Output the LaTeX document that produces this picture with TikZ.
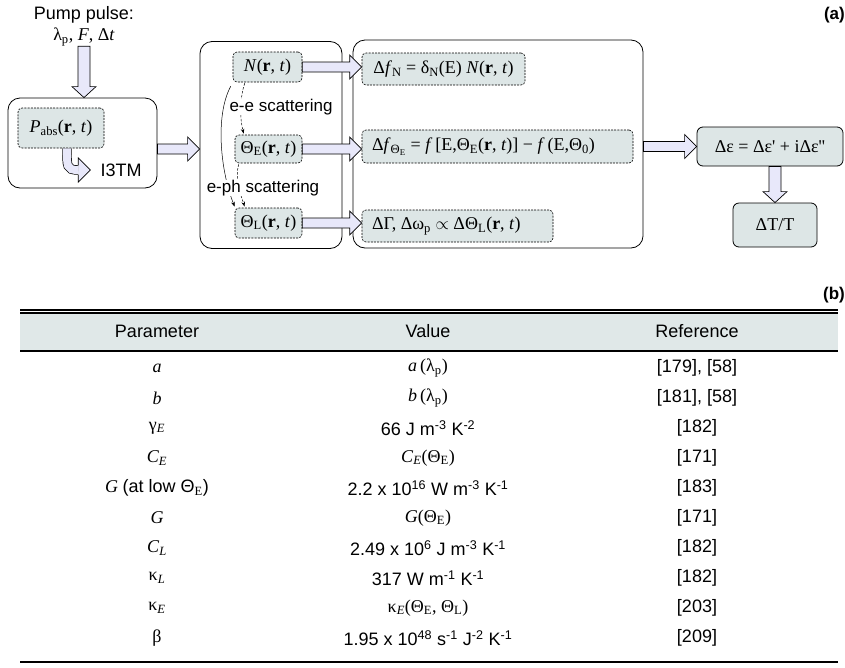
\documentclass[tikz,border=0pt]{standalone}
\usepackage{fontspec}
\setmainfont{Liberation Serif}
\setsansfont{Liberation Sans}
\usetikzlibrary{positioning, calc, arrows.meta}

\definecolor{boxfill}{RGB}{221,230,230}
\definecolor{arrfill}{RGB}{232,232,250}
\definecolor{headfill}{RGB}{224,232,232}

\newcommand{\posrt}{(\textbf{r}, \textit{t})}
\newcommand{\sbs}[1]{\textsubscript{#1}}
\newcommand{\sps}[1]{\textsuperscript{#1}}
\newcommand{\blkright}[2]{\draw[blk] let \p1=(#1), \p2=(#2) in (\x1,\y1+5pt) -- (\x2-12pt,\y1+5pt) -- (\x2-12pt,\y1+12pt) -- (\x2,\y1) -- (\x2-12pt,\y1-12pt) -- (\x2-12pt,\y1-5pt) -- (\x1,\y1-5pt) -- cycle;}
\newcommand{\blkdown}[2]{\draw[blk] let \p1=(#1), \p2=(#2) in (\x1-6pt,\y1) -- (\x1-6pt,\y2+11pt) -- (\x1-12pt,\y2+11pt) -- (\x1,\y2) -- (\x1+12pt,\y2+11pt) -- (\x1+6pt,\y2+11pt) -- (\x1+6pt,\y1) -- cycle;}

\begin{document}
\begin{tikzpicture}[x=1pt, y=-1pt]
\tikzstyle{every node}+=[inner sep=0pt, font=\fontsize{18}{21}\selectfont]
\tikzstyle{sans}=[font=\fontsize{18}{21}\selectfont\sffamily]
\tikzstyle{tag}=[font=\fontsize{17}{20}\selectfont\sffamily\bfseries, anchor=east]
\tikzstyle{frame}=[draw, line width=0.8pt, rounded corners=12pt]
\tikzstyle{dbox}=[draw, fill=boxfill, line width=0.6pt, dash pattern=on 2pt off 1.2pt, rounded corners=4pt]
\tikzstyle{lbox}=[dbox, align=flush left, inner xsep=10pt]
\tikzstyle{sbox}=[draw, fill=boxfill, line width=0.8pt, rounded corners=6pt]
\tikzstyle{blk}=[draw, fill=arrfill, line width=0.7pt]
\tikzstyle{scat}=[-{Stealth[length=5pt, width=3.5pt]}, line width=0.5pt]
\tikzstyle{dscat}=[scat, dash pattern=on 2.5pt off 1.5pt]
\tikzstyle{scatlbl}=[sans, font=\fontsize{17}{20}\selectfont\sffamily, fill=white]
\useasboundingbox (0,0) rectangle (845,667);

\node[tag] (laba) at (845,15) {(a)};
\node[sans] (pumptxt) at (84,15) {Pump pulse:};
\node (pumppar) at (84,37) {λ\sbs{p}, \textit{F}, Δ\textit{t}};

\node[frame, minimum width=149pt, minimum height=90pt] (leftbox) at (82.5,143) {};
\node[dbox, minimum width=86pt, minimum height=40pt] (Pabs) at (61,128) {\textit{P}\sbs{abs}\posrt};
\node[sans] (i3tm) at (121,170) {I3TM};

\node[frame, minimum width=142pt, minimum height=207pt] (midbox) at (271,145) {};
\node[frame, minimum width=290pt, minimum height=208pt] (rightbox) at (498,144) {};

\node[dbox, minimum width=69pt, minimum height=30pt] (N) at (267.5,67) {\textit{N}\posrt};
\node[dbox, minimum width=67pt, minimum height=28pt] (ThE) at (268.5,149) {Θ\sbs{E}\posrt};
\node[dbox, minimum width=67pt, minimum height=30pt] (ThL) at (268.5,223) {Θ\sbs{L}\posrt};

\node[dbox, minimum width=163pt, minimum height=32pt] (fN) at (443.5,69) {Δ\textit{f}\sbs{N} = δ\sbs{N}(E) \textit{N}\posrt};
\node[lbox, text width=251pt, minimum height=33pt] (fTh) at (497.5,146.5) {Δ\textit{f}\sbs{Θ\sbs{E}} = \textit{f}\,[E,Θ\sbs{E}\posrt] − \textit{f}\,(E,Θ\sbs{0})};
\node[lbox, text width=171pt, minimum height=32pt] (gam) at (457.5,226) {ΔΓ, Δω\sbs{p} $\propto$ ΔΘ\sbs{L}\posrt};

\node[sbox, minimum width=146pt, minimum height=39pt] (eps) at (770,146.5) {Δε = Δε\textquotesingle{} + iΔε\textquotesingle\textquotesingle};
\node[sbox, minimum width=84pt, minimum height=44pt] (dTT) at (775,225) {ΔT/T};

\blkdown{pumppar.south}{leftbox.north}
\blkright{leftbox.east |- ThE.west}{midbox.west}
\blkright{N.east}{fN.west}
\blkright{ThE.east}{fTh.west}
\blkright{ThL.east}{gam.west}
\blkright{rightbox.east |- eps.west}{eps.west}
\blkdown{dTT.north |- eps.south}{dTT.north}

\coordinate (ctip) at ($(i3tm.west)+(-10,0)$);
\draw[line width=0.7pt, double=arrfill, double distance=8pt] ($(Pabs.south)+(6,0)$) .. controls +(0,18) and +(-12,0) .. ($(ctip)+(-12,0)$);
\fill[arrfill] (ctip) -- ++(-12,-12) -- ++(0,24) -- cycle;
\draw[line width=0.7pt] ($(ctip)+(-12,-4.7)$) -- ++(0,-7.3) -- (ctip) -- ++(-12,12) -- ++(0,-7.3);

\draw[scat] ($(N.south west)+(-2,4)$) .. controls +(-16,30) and +(-14,-35) .. ($(ThL.north west)+(0,-1)$);
\draw[dscat] ($(N.south west)+(12,1)$) .. controls +(-5,15) and +(-4,-16) .. ($(ThE.north west)+(9,-1)$);
\draw[dscat] ($(ThE.south west)+(4,1)$) .. controls +(-4,15) and +(-5,-15) .. ($(ThL.north west)+(10,-1)$);
\node[scatlbl] (ee) at (281,107) {e-e scattering};
\node[scatlbl] (eph) at (263,188) {e-ph scattering};

\node[tag] (labb) at (845,295) {(b)};
\fill[headfill] (20,313) rectangle (838,350);
\draw[line width=1.2pt] (20,310) -- (838,310);
\draw[line width=2pt] (20,313.3) -- (838,313.3);
\draw[line width=2pt] (20,350.5) -- (838,350.5);
\draw[line width=2pt] (20,662) -- (838,662);

\node[sans] (hpar) at (157,331) {Parameter};
\node[sans] (hval) at (428,331) {Value};
\node[sans] (href) at (697,331) {Reference};

\node (par1) at (157,368) {\textit{a}};
\node (val1) at (428,368) {\textit{a}\,(λ\sbs{p})};
\node[sans] (ref1) at (697,368) {[179], [58]};
\node (par2) at (157,398) {\textit{b}};
\node (val2) at (428,398) {\textit{b}\,(λ\sbs{p})};
\node[sans] (ref2) at (697,398) {[181], [58]};
\node (par3) at (157,428) {γ\sbs{\textit{E}}};
\node[sans] (val3) at (428,428) {66 J m\sps{-3} K\sps{-2}};
\node[sans] (ref3) at (697,428) {[182]};
\node (par4) at (157,458) {\textit{C}\sbs{\textit{E}}};
\node (val4) at (428,458) {\textit{C}\sbs{\textit{E}}(Θ\sbs{E})};
\node[sans] (ref4) at (697,458) {[171]};
\node (par5) at (157,488) {\textit{G} {\sffamily (at low Θ}\sbs{E}{\sffamily )}};
\node[sans] (val5) at (428,488) {2.2 x 10\sps{16} W m\sps{-3} K\sps{-1}};
\node[sans] (ref5) at (697,488) {[183]};
\node (par6) at (157,518) {\textit{G}};
\node (val6) at (428,518) {\textit{G}(Θ\sbs{E})};
\node[sans] (ref6) at (697,518) {[171]};
\node (par7) at (157,548) {\textit{C}\sbs{\textit{L}}};
\node[sans] (val7) at (428,548) {2.49 x 10\sps{6} J m\sps{-3} K\sps{-1}};
\node[sans] (ref7) at (697,548) {[182]};
\node (par8) at (157,578) {κ\sbs{\textit{L}}};
\node[sans] (val8) at (428,578) {317 W m\sps{-1} K\sps{-1}};
\node[sans] (ref8) at (697,578) {[182]};
\node (par9) at (157,608) {κ\sbs{\textit{E}}};
\node (val9) at (428,608) {κ\sbs{\textit{E}}(Θ\sbs{E}, Θ\sbs{L})};
\node[sans] (ref9) at (697,608) {[203]};
\node (par10) at (157,638) {β};
\node[sans] (val10) at (428,638) {1.95 x 10\sps{48} s\sps{-1} J\sps{-2} K\sps{-1}};
\node[sans] (ref10) at (697,638) {[209]};
\end{tikzpicture}
\end{document}
